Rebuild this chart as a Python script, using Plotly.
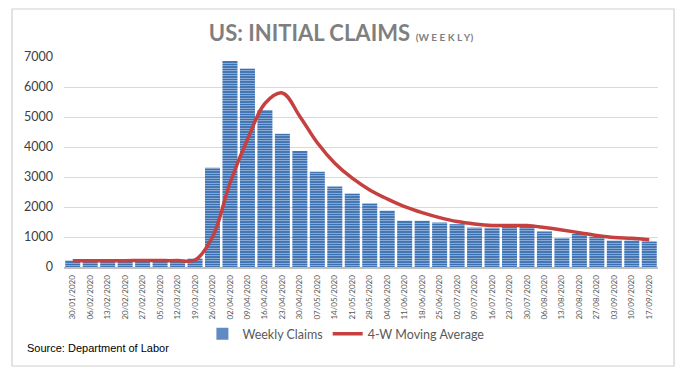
import plotly.graph_objects as go

dates = ["30/01/2020", "06/02/2020", "13/02/2020", "20/02/2020", "27/02/2020",
         "05/03/2020", "12/03/2020", "19/03/2020", "26/03/2020", "02/04/2020",
         "09/04/2020", "16/04/2020", "23/04/2020", "30/04/2020", "07/05/2020",
         "14/05/2020", "21/05/2020", "28/05/2020", "04/06/2020", "11/06/2020",
         "18/06/2020", "25/06/2020", "02/07/2020", "09/07/2020", "16/07/2020",
         "23/07/2020", "30/07/2020", "06/08/2020", "13/08/2020", "20/08/2020",
         "27/08/2020", "03/09/2020", "10/09/2020", "17/09/2020"]

weekly_claims = [216, 204, 211, 220, 217, 211, 216, 282, 3307, 6867,
                 6615, 5237, 4442, 3867, 3176, 2687, 2446, 2123, 1877, 1542,
                 1540, 1482, 1427, 1314, 1307, 1340, 1345, 1186, 963, 1106,
                 1006, 881, 884, 850]

moving_avg = [212, 212, 211, 212, 213, 213, 214, 232, 1000, 2800,
              4250, 5450, 5800, 5020, 4140, 3460, 2960, 2570, 2270, 2010,
              1810, 1645, 1515, 1435, 1385, 1380, 1380, 1315, 1235, 1145,
              1050, 980, 955, 910]

y_ticks = [0, 1000, 2000, 3000, 4000, 5000, 6000, 7000]

fig = go.Figure()
fig.add_trace(go.Bar(
    x=dates, y=weekly_claims, name="Weekly Claims",
    marker=dict(color="#3a6fb0", line=dict(width=0),
                pattern=dict(shape="-", size=2.5, solidity=0.3,
                             fgcolor="#b3cbe8", bgcolor="#3a6fb0", fillmode="replace")),
))
fig.add_trace(go.Scatter(
    x=dates, y=moving_avg, name="4-W Moving Average", mode="lines",
    line=dict(color="#c5403f", width=3.5, shape="spline", smoothing=1.0),
))

fig.update_layout(
    width=691, height=378,
    margin=dict(l=64, r=33, t=57, b=111, autoexpand=False),
    paper_bgcolor="white", plot_bgcolor="white",
    bargap=0.14,
    font=dict(family="Lato", color="#595959"),
    title=dict(
        text="<b>US: INITIAL CLAIMS</b> <span style='font-size:10px'><b>(W E E K L Y)</b></span>",
        x=0.4935, xanchor="center", y=0.912, yanchor="middle",
        font=dict(family="Lato", size=22, color="#7f7f7f"),
    ),
    xaxis=dict(
        tickangle=-90, tickfont=dict(size=8, color="#595959"),
        showline=True, linecolor="#bfbfbf", linewidth=2,
        showgrid=False, ticks="", ticklabelstandoff=3, automargin=False,
    ),
    yaxis=dict(
        range=[0, 7000], tickvals=y_ticks,
        tickfont=dict(size=12.5, color="#404040"),
        showgrid=True, gridcolor="#d9d9d9", gridwidth=1,
        zeroline=False, showline=False, ticks="", ticklabelstandoff=10,
        automargin=False,
    ),
    legend=dict(
        orientation="h", x=0.233, xanchor="left", y=-0.32, yanchor="middle",
        font=dict(size=12.5, color="#595959"), itemwidth=30,
        bgcolor="rgba(0,0,0,0)",
    ),
    showlegend=True,
)

fig.add_annotation(
    text="Source: Department of Labor", xref="paper", yref="paper",
    x=-0.066, xanchor="left", y=-0.386, yanchor="middle", showarrow=False,
    font=dict(family="Liberation Sans", size=11, color="#000000"),
)

fig.add_shape(type="rect", xref="paper", yref="paper",
              x0=-0.0875, x1=1.027, y0=-0.4714, y1=1.2286,
              line=dict(color="#d0d0d0", width=1.2), layer="below")

fig.write_html("out.html", config={"displayModeBar": False},
               post_script="document.body.style.margin='0';document.body.style.overflow='hidden';")
